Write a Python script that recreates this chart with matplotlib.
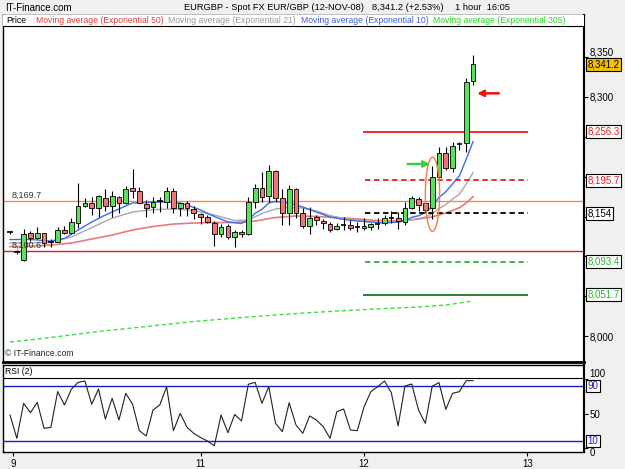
import numpy as np
import matplotlib
matplotlib.use("Agg")
import matplotlib.pyplot as plt
from matplotlib.patches import Ellipse
from matplotlib.transforms import blended_transform_factory

plt.rcParams['font.family'] = ['Liberation Sans', 'DejaVu Sans']

# hourly EUR/GBP candles, 9-12 Nov 2008
opens = [8130.0, 8105.1, 8095.5, 8129.0, 8122.7, 8129.0, 8118.4, 8118.4, 8133.1, 8129.0,
         8141.5, 8163.6, 8167.4, 8161.1, 8173.6, 8163.6, 8174.9, 8166.6, 8185.4, 8182.0,
         8165.7, 8161.6, 8168.9, 8168.6, 8182.0, 8160.3, 8167.4, 8159.1, 8152.8, 8149.0,
         8142.3, 8127.7, 8138.1, 8124.0, 8131.0, 8128.1, 8168.6, 8185.4, 8176.2, 8207.5,
         8172.9, 8154.1, 8184.2, 8154.1, 8138.1, 8149.0, 8144.8, 8140.6, 8134.4, 8139.4,
         8139.4, 8137.3, 8136.0, 8136.5, 8140.6, 8141.5, 8147.8, 8147.8, 8143.5, 8160.3,
         8172.0, 8166.6, 8160.3, 8199.2, 8229.4, 8210.5, 8240.6, 8241.9, 8320.4]
highs = [8131.5, 8108.0, 8134.0, 8132.2, 8137.3, 8129.7, 8121.5, 8137.3, 8138.1, 8147.8,
         8192.1, 8172.9, 8174.2, 8177.0, 8184.2, 8182.4, 8176.4, 8188.7, 8209.3, 8187.4,
         8170.8, 8174.9, 8174.9, 8186.7, 8185.4, 8168.6, 8169.5, 8163.6, 8154.4, 8151.9,
         8143.8, 8140.3, 8140.6, 8133.1, 8133.1, 8174.9, 8190.5, 8206.3, 8214.7, 8208.4,
         8184.2, 8189.6, 8185.8, 8161.1, 8162.4, 8151.9, 8146.9, 8143.5, 8141.5, 8149.8,
         8145.7, 8143.5, 8147.8, 8142.5, 8147.8, 8151.9, 8157.0, 8156.1, 8168.6, 8175.8,
         8174.9, 8169.5, 8213.4, 8237.6, 8237.6, 8243.9, 8243.9, 8323.5, 8352.7]
lows = [8128.5, 8103.0, 8094.8, 8119.7, 8121.5, 8111.4, 8111.4, 8118.0, 8128.1, 8128.1,
        8135.2, 8162.6, 8151.9, 8149.1, 8157.3, 8149.1, 8154.8, 8165.7, 8172.9, 8167.0,
        8149.8, 8154.1, 8156.1, 8160.3, 8154.1, 8150.7, 8150.7, 8146.5, 8140.6, 8141.9,
        8113.4, 8124.7, 8121.5, 8112.2, 8124.7, 8126.8, 8160.3, 8168.6, 8168.6, 8168.6,
        8139.4, 8139.4, 8147.8, 8135.2, 8127.7, 8139.4, 8134.4, 8131.0, 8133.1, 8133.1,
        8133.1, 8131.0, 8133.1, 8133.1, 8134.0, 8139.4, 8141.5, 8134.0, 8139.4, 8159.5,
        8157.3, 8154.1, 8146.5, 8198.4, 8208.4, 8206.3, 8233.5, 8231.4, 8315.1]
closes = [8130.0, 8105.1, 8128.1, 8123.5, 8129.0, 8117.2, 8118.4, 8133.1, 8129.0, 8142.8,
          8163.6, 8166.6, 8161.1, 8175.8, 8163.6, 8176.2, 8166.6, 8184.6, 8182.4, 8167.4,
          8160.3, 8168.6, 8168.9, 8182.0, 8160.3, 8166.6, 8160.3, 8154.1, 8149.0, 8142.8,
          8127.7, 8137.3, 8124.0, 8130.2, 8128.1, 8168.6, 8185.4, 8174.2, 8207.5, 8173.6,
          8154.1, 8184.2, 8154.1, 8138.1, 8148.5, 8145.7, 8141.5, 8133.1, 8138.5, 8139.4,
          8135.2, 8137.3, 8138.5, 8140.3, 8140.6, 8147.8, 8147.8, 8144.4, 8160.3, 8172.9,
          8164.5, 8158.2, 8199.2, 8229.4, 8210.5, 8238.9, 8240.6, 8319.2, 8341.2]

# moving averages, sampled at bar indexes
ema10_idx = [0, 3, 6, 8, 10, 12, 14, 16, 18, 20, 22, 24, 26, 28, 30, 32, 34, 35, 36, 37,
             38, 39, 41, 43, 45, 47, 49, 51, 53, 55, 57, 58, 59, 60, 61, 62, 63, 64, 65,
             66, 67, 68]
ema10 = [8121.2, 8121.2, 8119.3, 8122.5, 8133.1, 8143.2, 8151.9, 8159.5, 8167.0, 8167.6,
         8168.3, 8168.3, 8164.5, 8158.2, 8150.1, 8143.2, 8141.3, 8146.0, 8154.0, 8159.0,
         8167.0, 8169.0, 8167.0, 8162.0, 8155.7, 8149.4, 8146.3, 8144.4, 8143.2, 8141.9,
         8143.2, 8145.0, 8149.0, 8151.0, 8155.0, 8163.0, 8174.0, 8181.0, 8191.0, 8201.0,
         8222.0, 8244.0]
ema21_idx = [0, 3, 6, 9, 12, 15, 18, 21, 24, 27, 30, 33, 35, 37, 39, 41, 43, 45, 47, 49,
             51, 53, 55, 57, 59, 61, 62, 63, 64, 65, 66, 67, 68]
ema21 = [8116.8, 8116.8, 8118.1, 8124.3, 8136.0, 8148.0, 8155.7, 8158.8, 8159.5, 8157.6,
         8151.9, 8145.0, 8145.7, 8153.8, 8159.5, 8161.4, 8160.7, 8157.0, 8151.3, 8147.5,
         8145.0, 8143.2, 8142.5, 8143.2, 8145.7, 8149.4, 8153.5, 8160.0, 8165.0, 8172.0,
         8178.0, 8191.0, 8205.0]
ema50_idx = [0, 3, 6, 9, 12, 15, 18, 21, 24, 27, 30, 33, 36, 39, 42, 45, 48, 51, 54, 57,
             60, 62, 64, 66, 67, 68]
ema50 = [8112.2, 8112.7, 8114.3, 8116.8, 8121.8, 8126.8, 8133.1, 8137.5, 8140.6, 8141.9,
         8142.5, 8142.5, 8144.4, 8148.8, 8150.7, 8150.1, 8148.8, 8146.9, 8145.0, 8144.4,
         8146.9, 8149.5, 8154.5, 8161.0, 8167.0, 8175.0]
ema305_idx = [0, 6, 13, 20, 27, 34, 41, 48, 55, 60, 64, 68]
ema305 = [7992.6, 7998.2, 8005.8, 8012.0, 8018.3, 8023.3, 8027.7, 8031.5, 8034.6, 8036.5,
          8039.0, 8044.0]

# RSI(2)
rsi = [47.8, 13.9, 64.8, 51.2, 66.2, 28.4, 29.9, 81.8, 62.4, 85.2,
       95.3, 97.3, 63.4, 85.6, 42.0, 72.1, 40.5, 79.4, 63.4, 25.0,
       17.3, 55.1, 62.4, 89.0, 25.0, 50.2, 29.9, 21.0, 15.0, 10.0,
       3.0, 47.8, 22.1, 48.7, 39.1, 92.5, 95.3, 64.8, 89.0, 35.7,
       23.6, 65.7, 33.3, 21.2, 46.4, 40.5, 30.8, 13.9, 52.6, 56.5,
       26.0, 25.0, 59.9, 81.8, 89.0, 97.3, 80.3, 31.8, 90.0, 92.9,
       55.0, 35.7, 89.5, 95.0, 56.0, 79.3, 81.8, 97.8, 97.8]

day_ticks = [0.5, 28, 52, 76]
day_labels = ["9", "11", "12", "13"]

# price axis ticks (labels under the level boxes are left out)
price_ticks = [8000, 8050, 8100, 8150, 8200, 8250, 8300, 8350]
price_tick_labels = ["8,000", "", "", "", "", "", "8,300", "8,350"]

# support / resistance levels
full_lines = [8169.7, 8106.6]
full_labels = ["8,169.7", "8,100.6"]
level_values = [8256.3, 8195.7, 8154.0, 8093.4, 8051.7]
level_labels = ["8,256.3", "8,195.7", "8,154", "8,093.4", "8,051.7"]
last_price = 8341.2

# ---------- figure ----------
W, H = 625, 469
fig = plt.figure(figsize=(W / 100, H / 100), dpi=100)
fig.patch.set_facecolor('#f0f0f0')


def rect(x0, y0, x1, y1):
    return [x0 / W, 1 - y1 / H, (x1 - x0) / W, (y1 - y0) / H]


ax = fig.add_axes(rect(3, 15, 584, 362))
rx = fig.add_axes(rect(3, 365, 584, 452), sharex=ax)

px_per_unit = 0.797
ax.set_ylim(8300 - (362 - 97) / px_per_unit, 8300 + (97 - 15) / px_per_unit)
ax.set_xlim(-1.03, 84.3)

x = np.arange(len(closes))
o = np.array(opens); c = np.array(closes)
h = np.array(highs); l = np.array(lows)

# moving averages (behind the candles)
ax.plot(ema50_idx, ema50, color='#e87a7a', lw=1.2, zorder=2)
ax.plot(ema21_idx, ema21, color='#a8a8a8', lw=1.0, zorder=2)
ax.plot(ema10_idx, ema10, color='#3d6cf0', lw=1.0, zorder=2)
ax.plot(ema305_idx, ema305, color='#3ee03e', lw=1.0, ls=(0, (3, 2)), zorder=2)

# full width lines
ax.axhline(full_lines[0], color='#f08a50', lw=1.0, zorder=1)
ax.axhline(full_lines[1], color='#dd1c1c', lw=1.0, zorder=1)
for v, t in zip(full_lines, full_labels):
    ax.text(0.2, v + 1.5, t, fontsize=6.5, color='#333333', va='bottom', ha='left', zorder=6)

# candles
ax.vlines(x, l, h, color='black', lw=0.8, zorder=3)
doji = np.abs(c - o) < 0.5
up = (c > o) & ~doji
dn = (c < o) & ~doji
ax.bar(x[up], (c - o)[up], bottom=o[up], width=0.7, color='#5ae05a',
       edgecolor='black', lw=0.6, zorder=4)
ax.bar(x[dn], (o - c)[dn], bottom=c[dn], width=0.7, color='#f07575',
       edgecolor='black', lw=0.6, zorder=4)
ax.hlines(c[doji], x[doji] - 0.4, x[doji] + 0.4, color='black', lw=1.2, zorder=4)

# level lines on the right side
x0, x1 = 51.8, 76.1
ax.hlines(level_values[0], x0, x1, color='#ee1c1c', lw=1.3, zorder=2)
ax.hlines(level_values[1], x0 + 0.3, x1, color='#ee1c1c', lw=1.3, ls=(0, (3, 2)), zorder=2)
ax.hlines(level_values[2], x0 + 0.3, x1, color='black', lw=1.3, ls=(0, (3, 2)), zorder=2)
ax.hlines(level_values[3], x0 + 0.3, x1, color='#2db82d', lw=1.3, ls=(0, (3, 2)), zorder=2)
ax.hlines(level_values[4], x0, x1, color='#1a7a1a', lw=1.3, zorder=2)

# annotations
ax.add_patch(Ellipse((62.05, 8178.0), 2.1, 93.0, fill=False, edgecolor='#f08040', lw=1.0, zorder=5))
ax.annotate('', xy=(62.1, 8215.9), xytext=(58.0, 8215.9),
            arrowprops=dict(arrowstyle='-|>', color='#3ccf3c', lw=1.8, mutation_scale=9), zorder=6)
ax.annotate('', xy=(68.2, 8304.6), xytext=(72.2, 8304.6),
            arrowprops=dict(arrowstyle='-|>', color='#ee1111', lw=1.8, mutation_scale=9), zorder=6)

# header strip inside the price panel
ax.plot([0, 1], [0.968, 0.968], transform=ax.transAxes, color='black', lw=0.8, zorder=7)
ax.add_patch(plt.Rectangle((0, 0.968), 1, 0.032, transform=ax.transAxes,
                           facecolor='white', edgecolor='none', zorder=6))
legend_items = [("Price", 'black', 6), ("Moving average (Exponential 50)", '#e03c3c', 36),
                ("Moving average (Exponential 21)", '#9a9a9a', 168),
                ("Moving average (Exponential 10)", '#3a5ee8', 301),
                ("Moving average (Exponential 305)", '#22dd22', 433)]
for txt, col, px in legend_items:
    ax.text((px - 3) / 581, 0.984, txt, transform=ax.transAxes, fontsize=6.2,
            color=col, va='center', ha='left', zorder=8)
ax.text(0.004, 0.012, "\u00a9 IT-Finance.com", transform=ax.transAxes, fontsize=6.2,
        va='bottom', ha='left', color='#222222')

# right price axis
ax.yaxis.tick_right()
ax.set_yticks(price_ticks)
ax.set_yticklabels(price_tick_labels)
ax.tick_params(axis='y', labelsize=7, length=3, pad=1, direction='out')
ax.tick_params(axis='x', bottom=False, labelbottom=False)
ax.get_yticklabels()[-1].set_verticalalignment('bottom')
for sp in ax.spines.values():
    sp.set_linewidth(1.0)
ax.spines['bottom'].set_linewidth(2.0)
ax.spines['right'].set_linewidth(1.5)

tr = blended_transform_factory(ax.transAxes, ax.transData)
box_colors = ['#ee1c1c', '#ee1c1c', 'black', '#2db82d', '#2db82d']
for v, t, col in zip(level_values, level_labels, box_colors):
    ax.text(1.006, v, t, transform=tr, fontsize=7, color=col, va='center', ha='left',
            bbox=dict(boxstyle='square,pad=0.15', facecolor='white', edgecolor='black', lw=0.8),
            zorder=10, clip_on=False)
ax.text(1.006, last_price, f"{last_price:,.1f}", transform=tr, fontsize=7, color='black',
        va='center', ha='left', zorder=10, clip_on=False,
        bbox=dict(boxstyle='square,pad=0.15', facecolor='#f2c200', edgecolor='black', lw=0.8))

# ---------- RSI panel ----------
rsi_px = 55 / 80
rx.set_ylim(10 - (452 - 441) / rsi_px, 90 + (441 - 365 - 55) / rsi_px)
rx.plot(x, rsi, color='#222222', lw=0.8, zorder=3)
rx.axhline(90, color='#1c1cc8', lw=1.0)
rx.axhline(10, color='#1c1cc8', lw=1.0)
rx.plot([0, 1], [0.851, 0.851], transform=rx.transAxes, color='black', lw=0.8)
rx.text(0.004, 0.925, "RSI (2)", transform=rx.transAxes, fontsize=6.2, va='center', ha='left')
rx.yaxis.tick_right()
rx.set_yticks([0, 50, 100])
rx.set_yticklabels(["0", "50", "100"])
rx.tick_params(axis='y', labelsize=7, length=3, pad=1)
rlabels = rx.get_yticklabels()
rlabels[0].set_verticalalignment('top')
rlabels[2].set_verticalalignment('bottom')
rtr = blended_transform_factory(rx.transAxes, rx.transData)
for v in [90, 10]:
    rx.text(1.006, v, str(v), transform=rtr, fontsize=7, color='#1c1cc8', va='center', ha='left',
            bbox=dict(boxstyle='square,pad=0.15', facecolor='white', edgecolor='black', lw=0.8),
            zorder=10, clip_on=False)
rx.set_xticks(day_ticks)
rx.set_xticklabels(day_labels)
rx.tick_params(axis='x', labelsize=7, length=3, pad=2)
for sp in rx.spines.values():
    sp.set_linewidth(1.0)
rx.spines['right'].set_linewidth(1.5)

# page header
hy = 1 - 8 / H
fig.text(5 / W, hy, "IT-Finance.com", fontsize=7, va='center', ha='left')
fig.text(184 / W, hy, "EURGBP - Spot FX EUR/GBP (12-NOV-08)", fontsize=6.7, va='center', ha='left')
fig.text(372 / W, hy, "8,341.2 (+2.53%)", fontsize=6.7, va='center', ha='left')
fig.text(455 / W, hy, "1 hour  16:05", fontsize=6.7, va='center', ha='left')

fig.savefig("out.png", dpi=100, facecolor=fig.get_facecolor())
